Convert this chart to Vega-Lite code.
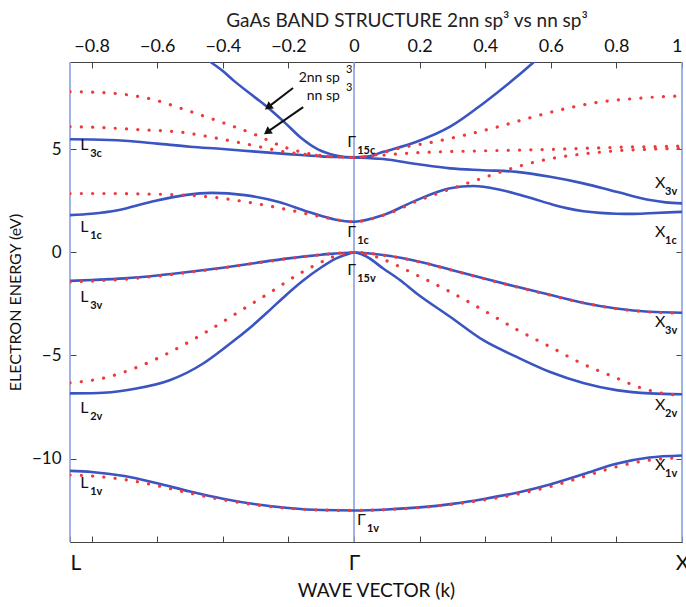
{
  "$schema": "https://vega.github.io/schema/vega-lite/v6.json",
  "autosize": "none",
  "width": 612,
  "height": 480,
  "padding": {"left": 70, "top": 62, "right": 4, "bottom": 65},
  "background": "white",
  "title": {"text": "GaAs BAND STRUCTURE 2nn sp³ vs nn sp³", "font": "Lato", "fontSize": 19, "fontWeight": "normal", "color": "#222", "dx": 31, "offset": 6},
  "config": {
    "view": {"stroke": null},
    "font": "Lato",
    "axis": {"grid": false, "domainColor": "#444", "tickColor": "#444", "tickSize": -6, "labelColor": "#111", "labelFont": "Lato", "labelFontSize": 17, "titleFont": "Lato", "titleFontSize": 16, "titleFontWeight": "normal", "titleColor": "#111"}
  },
  "datasets": {
    "points": [{"point": "L", "k": -0.866}, {"point": "Γ", "k": 0}, {"point": "X", "k": 1}],
    "bands": [
      {"model": "2nn", "band": "v1", "k": -0.866, "E": -10.6},
      {"model": "2nn", "band": "v1", "k": -0.8, "E": -10.65},
      {"model": "2nn", "band": "v1", "k": -0.7, "E": -10.85},
      {"model": "2nn", "band": "v1", "k": -0.6, "E": -11.2},
      {"model": "2nn", "band": "v1", "k": -0.5, "E": -11.6},
      {"model": "2nn", "band": "v1", "k": -0.4, "E": -11.95},
      {"model": "2nn", "band": "v1", "k": -0.3, "E": -12.22},
      {"model": "2nn", "band": "v1", "k": -0.2, "E": -12.4},
      {"model": "2nn", "band": "v1", "k": -0.1, "E": -12.5},
      {"model": "2nn", "band": "v1", "k": 0, "E": -12.52},
      {"model": "2nn", "band": "v1", "k": 0.1, "E": -12.47},
      {"model": "2nn", "band": "v1", "k": 0.2, "E": -12.37},
      {"model": "2nn", "band": "v1", "k": 0.3, "E": -12.2},
      {"model": "2nn", "band": "v1", "k": 0.4, "E": -11.95},
      {"model": "2nn", "band": "v1", "k": 0.5, "E": -11.65},
      {"model": "2nn", "band": "v1", "k": 0.6, "E": -11.25},
      {"model": "2nn", "band": "v1", "k": 0.7, "E": -10.75},
      {"model": "2nn", "band": "v1", "k": 0.8, "E": -10.25},
      {"model": "2nn", "band": "v1", "k": 0.9, "E": -9.95},
      {"model": "2nn", "band": "v1", "k": 1, "E": -9.85},

      {"model": "2nn", "band": "v2", "k": -0.866, "E": -6.84},
      {"model": "2nn", "band": "v2", "k": -0.8, "E": -6.83},
      {"model": "2nn", "band": "v2", "k": -0.764, "E": -6.81},
      {"model": "2nn", "band": "v2", "k": -0.663, "E": -6.6},
      {"model": "2nn", "band": "v2", "k": -0.562, "E": -6.2},
      {"model": "2nn", "band": "v2", "k": -0.46, "E": -5.39},
      {"model": "2nn", "band": "v2", "k": -0.41, "E": -4.82},
      {"model": "2nn", "band": "v2", "k": -0.358, "E": -4.18},
      {"model": "2nn", "band": "v2", "k": -0.308, "E": -3.53},
      {"model": "2nn", "band": "v2", "k": -0.257, "E": -2.8},
      {"model": "2nn", "band": "v2", "k": -0.206, "E": -2.05},
      {"model": "2nn", "band": "v2", "k": -0.155, "E": -1.36},
      {"model": "2nn", "band": "v2", "k": -0.105, "E": -0.78},
      {"model": "2nn", "band": "v2", "k": -0.054, "E": -0.29},
      {"model": "2nn", "band": "v2", "k": -0.013, "E": -0.05},
      {"model": "2nn", "band": "v2", "k": 0, "E": 0},
      {"model": "2nn", "band": "v2", "k": 0.039, "E": -0.21},
      {"model": "2nn", "band": "v2", "k": 0.089, "E": -0.78},
      {"model": "2nn", "band": "v2", "k": 0.14, "E": -1.34},
      {"model": "2nn", "band": "v2", "k": 0.191, "E": -1.99},
      {"model": "2nn", "band": "v2", "k": 0.293, "E": -3.12},
      {"model": "2nn", "band": "v2", "k": 0.394, "E": -4.26},
      {"model": "2nn", "band": "v2", "k": 0.496, "E": -5.07},
      {"model": "2nn", "band": "v2", "k": 0.598, "E": -5.8},
      {"model": "2nn", "band": "v2", "k": 0.699, "E": -6.33},
      {"model": "2nn", "band": "v2", "k": 0.8, "E": -6.68},
      {"model": "2nn", "band": "v2", "k": 0.902, "E": -6.84},
      {"model": "2nn", "band": "v2", "k": 1, "E": -6.88},

      {"model": "2nn", "band": "v3", "k": -0.866, "E": -1.38},
      {"model": "2nn", "band": "v3", "k": -0.8, "E": -1.34},
      {"model": "2nn", "band": "v3", "k": -0.7, "E": -1.26},
      {"model": "2nn", "band": "v3", "k": -0.6, "E": -1.12},
      {"model": "2nn", "band": "v3", "k": -0.5, "E": -0.94},
      {"model": "2nn", "band": "v3", "k": -0.4, "E": -0.74},
      {"model": "2nn", "band": "v3", "k": -0.3, "E": -0.51},
      {"model": "2nn", "band": "v3", "k": -0.2, "E": -0.29},
      {"model": "2nn", "band": "v3", "k": -0.1, "E": -0.11},
      {"model": "2nn", "band": "v3", "k": 0, "E": 0},
      {"model": "2nn", "band": "v3", "k": 0.1, "E": -0.15},
      {"model": "2nn", "band": "v3", "k": 0.2, "E": -0.45},
      {"model": "2nn", "band": "v3", "k": 0.3, "E": -0.86},
      {"model": "2nn", "band": "v3", "k": 0.4, "E": -1.28},
      {"model": "2nn", "band": "v3", "k": 0.5, "E": -1.68},
      {"model": "2nn", "band": "v3", "k": 0.6, "E": -2.07},
      {"model": "2nn", "band": "v3", "k": 0.7, "E": -2.45},
      {"model": "2nn", "band": "v3", "k": 0.8, "E": -2.72},
      {"model": "2nn", "band": "v3", "k": 0.9, "E": -2.88},
      {"model": "2nn", "band": "v3", "k": 1, "E": -2.93},

      {"model": "2nn", "band": "c1", "k": -0.866, "E": 1.81},
      {"model": "2nn", "band": "c1", "k": -0.8, "E": 1.88},
      {"model": "2nn", "band": "c1", "k": -0.72, "E": 2.05},
      {"model": "2nn", "band": "c1", "k": -0.618, "E": 2.46},
      {"model": "2nn", "band": "c1", "k": -0.516, "E": 2.78},
      {"model": "2nn", "band": "c1", "k": -0.435, "E": 2.89},
      {"model": "2nn", "band": "c1", "k": -0.333, "E": 2.78},
      {"model": "2nn", "band": "c1", "k": -0.232, "E": 2.46},
      {"model": "2nn", "band": "c1", "k": -0.13, "E": 1.92},
      {"model": "2nn", "band": "c1", "k": -0.059, "E": 1.6},
      {"model": "2nn", "band": "c1", "k": 0, "E": 1.49},
      {"model": "2nn", "band": "c1", "k": 0.089, "E": 1.81},
      {"model": "2nn", "band": "c1", "k": 0.191, "E": 2.54},
      {"model": "2nn", "band": "c1", "k": 0.293, "E": 3.11},
      {"model": "2nn", "band": "c1", "k": 0.364, "E": 3.22},
      {"model": "2nn", "band": "c1", "k": 0.445, "E": 3.04},
      {"model": "2nn", "band": "c1", "k": 0.547, "E": 2.6},
      {"model": "2nn", "band": "c1", "k": 0.6, "E": 2.35},
      {"model": "2nn", "band": "c1", "k": 0.648, "E": 2.15},
      {"model": "2nn", "band": "c1", "k": 0.7, "E": 2.0},
      {"model": "2nn", "band": "c1", "k": 0.75, "E": 1.92},
      {"model": "2nn", "band": "c1", "k": 0.8, "E": 1.88},
      {"model": "2nn", "band": "c1", "k": 0.852, "E": 1.87},
      {"model": "2nn", "band": "c1", "k": 0.9, "E": 1.9},
      {"model": "2nn", "band": "c1", "k": 1, "E": 1.97},

      {"model": "2nn", "band": "c2", "k": -0.866, "E": 5.49},
      {"model": "2nn", "band": "c2", "k": -0.8, "E": 5.48},
      {"model": "2nn", "band": "c2", "k": -0.7, "E": 5.42},
      {"model": "2nn", "band": "c2", "k": -0.6, "E": 5.28},
      {"model": "2nn", "band": "c2", "k": -0.5, "E": 5.13},
      {"model": "2nn", "band": "c2", "k": -0.4, "E": 5.02},
      {"model": "2nn", "band": "c2", "k": -0.3, "E": 4.89},
      {"model": "2nn", "band": "c2", "k": -0.2, "E": 4.77},
      {"model": "2nn", "band": "c2", "k": -0.1, "E": 4.66},
      {"model": "2nn", "band": "c2", "k": 0, "E": 4.61},
      {"model": "2nn", "band": "c2", "k": 0.089, "E": 4.53},
      {"model": "2nn", "band": "c2", "k": 0.191, "E": 4.29},
      {"model": "2nn", "band": "c2", "k": 0.293, "E": 4.08},
      {"model": "2nn", "band": "c2", "k": 0.394, "E": 3.99},
      {"model": "2nn", "band": "c2", "k": 0.496, "E": 3.91},
      {"model": "2nn", "band": "c2", "k": 0.598, "E": 3.67},
      {"model": "2nn", "band": "c2", "k": 0.699, "E": 3.35},
      {"model": "2nn", "band": "c2", "k": 0.8, "E": 2.94},
      {"model": "2nn", "band": "c2", "k": 0.902, "E": 2.54},
      {"model": "2nn", "band": "c2", "k": 0.95, "E": 2.43},
      {"model": "2nn", "band": "c2", "k": 1, "E": 2.38},

      {"model": "2nn", "band": "c3", "k": -0.47, "E": 9.65},
      {"model": "2nn", "band": "c3", "k": -0.445, "E": 9.33},
      {"model": "2nn", "band": "c3", "k": -0.4, "E": 8.8},
      {"model": "2nn", "band": "c3", "k": -0.364, "E": 8.3},
      {"model": "2nn", "band": "c3", "k": -0.3, "E": 7.5},
      {"model": "2nn", "band": "c3", "k": -0.262, "E": 7.02},
      {"model": "2nn", "band": "c3", "k": -0.211, "E": 6.3},
      {"model": "2nn", "band": "c3", "k": -0.161, "E": 5.55},
      {"model": "2nn", "band": "c3", "k": -0.11, "E": 5.0},
      {"model": "2nn", "band": "c3", "k": -0.059, "E": 4.72},
      {"model": "2nn", "band": "c3", "k": 0, "E": 4.61},
      {"model": "2nn", "band": "c3", "k": 0.04, "E": 4.65},
      {"model": "2nn", "band": "c3", "k": 0.089, "E": 4.88},
      {"model": "2nn", "band": "c3", "k": 0.191, "E": 5.37},
      {"model": "2nn", "band": "c3", "k": 0.293, "E": 6.1},
      {"model": "2nn", "band": "c3", "k": 0.394, "E": 7.23},
      {"model": "2nn", "band": "c3", "k": 0.496, "E": 8.52},
      {"model": "2nn", "band": "c3", "k": 0.56, "E": 9.4},

      {"model": "nn", "band": "v1", "k": -0.866, "E": -10.8},
      {"model": "nn", "band": "v1", "k": -0.8, "E": -10.85},
      {"model": "nn", "band": "v1", "k": -0.7, "E": -11.02},
      {"model": "nn", "band": "v1", "k": -0.6, "E": -11.32},
      {"model": "nn", "band": "v1", "k": -0.5, "E": -11.68},
      {"model": "nn", "band": "v1", "k": -0.4, "E": -12.0},
      {"model": "nn", "band": "v1", "k": -0.3, "E": -12.25},
      {"model": "nn", "band": "v1", "k": -0.2, "E": -12.42},
      {"model": "nn", "band": "v1", "k": -0.1, "E": -12.5},
      {"model": "nn", "band": "v1", "k": 0, "E": -12.52},
      {"model": "nn", "band": "v1", "k": 0.1, "E": -12.48},
      {"model": "nn", "band": "v1", "k": 0.2, "E": -12.38},
      {"model": "nn", "band": "v1", "k": 0.3, "E": -12.22},
      {"model": "nn", "band": "v1", "k": 0.4, "E": -12.0},
      {"model": "nn", "band": "v1", "k": 0.5, "E": -11.72},
      {"model": "nn", "band": "v1", "k": 0.6, "E": -11.35},
      {"model": "nn", "band": "v1", "k": 0.7, "E": -10.88},
      {"model": "nn", "band": "v1", "k": 0.8, "E": -10.4},
      {"model": "nn", "band": "v1", "k": 0.9, "E": -10.08},
      {"model": "nn", "band": "v1", "k": 1, "E": -9.95},

      {"model": "nn", "band": "v2", "k": -0.866, "E": -6.33},
      {"model": "nn", "band": "v2", "k": -0.762, "E": -6.09},
      {"model": "nn", "band": "v2", "k": -0.658, "E": -5.55},
      {"model": "nn", "band": "v2", "k": -0.555, "E": -4.79},
      {"model": "nn", "band": "v2", "k": -0.45, "E": -3.85},
      {"model": "nn", "band": "v2", "k": -0.346, "E": -2.83},
      {"model": "nn", "band": "v2", "k": -0.242, "E": -1.8},
      {"model": "nn", "band": "v2", "k": -0.171, "E": -1.07},
      {"model": "nn", "band": "v2", "k": -0.138, "E": -0.78},
      {"model": "nn", "band": "v2", "k": -0.104, "E": -0.5},
      {"model": "nn", "band": "v2", "k": -0.069, "E": -0.24},
      {"model": "nn", "band": "v2", "k": -0.034, "E": -0.08},
      {"model": "nn", "band": "v2", "k": 0, "E": 0},
      {"model": "nn", "band": "v2", "k": 0.04, "E": -0.08},
      {"model": "nn", "band": "v2", "k": 0.089, "E": -0.34},
      {"model": "nn", "band": "v2", "k": 0.191, "E": -1.1},
      {"model": "nn", "band": "v2", "k": 0.293, "E": -1.91},
      {"model": "nn", "band": "v2", "k": 0.394, "E": -2.8},
      {"model": "nn", "band": "v2", "k": 0.496, "E": -3.74},
      {"model": "nn", "band": "v2", "k": 0.598, "E": -4.58},
      {"model": "nn", "band": "v2", "k": 0.699, "E": -5.42},
      {"model": "nn", "band": "v2", "k": 0.8, "E": -6.09},
      {"model": "nn", "band": "v2", "k": 0.865, "E": -6.52},
      {"model": "nn", "band": "v2", "k": 0.933, "E": -6.81},
      {"model": "nn", "band": "v2", "k": 1, "E": -6.95},

      {"model": "nn", "band": "v3", "k": -0.866, "E": -1.43},
      {"model": "nn", "band": "v3", "k": -0.8, "E": -1.39},
      {"model": "nn", "band": "v3", "k": -0.7, "E": -1.3},
      {"model": "nn", "band": "v3", "k": -0.6, "E": -1.15},
      {"model": "nn", "band": "v3", "k": -0.5, "E": -0.96},
      {"model": "nn", "band": "v3", "k": -0.4, "E": -0.75},
      {"model": "nn", "band": "v3", "k": -0.3, "E": -0.52},
      {"model": "nn", "band": "v3", "k": -0.2, "E": -0.3},
      {"model": "nn", "band": "v3", "k": -0.1, "E": -0.11},
      {"model": "nn", "band": "v3", "k": 0, "E": 0},
      {"model": "nn", "band": "v3", "k": 0.1, "E": -0.16},
      {"model": "nn", "band": "v3", "k": 0.2, "E": -0.46},
      {"model": "nn", "band": "v3", "k": 0.3, "E": -0.87},
      {"model": "nn", "band": "v3", "k": 0.4, "E": -1.29},
      {"model": "nn", "band": "v3", "k": 0.5, "E": -1.69},
      {"model": "nn", "band": "v3", "k": 0.6, "E": -2.08},
      {"model": "nn", "band": "v3", "k": 0.7, "E": -2.45},
      {"model": "nn", "band": "v3", "k": 0.8, "E": -2.73},
      {"model": "nn", "band": "v3", "k": 0.9, "E": -2.89},
      {"model": "nn", "band": "v3", "k": 1, "E": -2.94},

      {"model": "nn", "band": "c1", "k": -0.866, "E": 2.86},
      {"model": "nn", "band": "c1", "k": -0.75, "E": 2.86},
      {"model": "nn", "band": "c1", "k": -0.65, "E": 2.84},
      {"model": "nn", "band": "c1", "k": -0.516, "E": 2.78},
      {"model": "nn", "band": "c1", "k": -0.414, "E": 2.65},
      {"model": "nn", "band": "c1", "k": -0.313, "E": 2.41},
      {"model": "nn", "band": "c1", "k": -0.207, "E": 2.09},
      {"model": "nn", "band": "c1", "k": -0.1, "E": 1.73},
      {"model": "nn", "band": "c1", "k": -0.03, "E": 1.53},
      {"model": "nn", "band": "c1", "k": 0, "E": 1.49},
      {"model": "nn", "band": "c1", "k": 0.1, "E": 1.86},
      {"model": "nn", "band": "c1", "k": 0.2, "E": 2.54},
      {"model": "nn", "band": "c1", "k": 0.3, "E": 3.11},
      {"model": "nn", "band": "c1", "k": 0.4, "E": 3.65},
      {"model": "nn", "band": "c1", "k": 0.5, "E": 4.17},
      {"model": "nn", "band": "c1", "k": 0.6, "E": 4.55},
      {"model": "nn", "band": "c1", "k": 0.7, "E": 4.78},
      {"model": "nn", "band": "c1", "k": 0.8, "E": 4.93},
      {"model": "nn", "band": "c1", "k": 0.9, "E": 5.01},
      {"model": "nn", "band": "c1", "k": 1, "E": 5.05},

      {"model": "nn", "band": "c2", "k": -0.866, "E": 6.1},
      {"model": "nn", "band": "c2", "k": -0.8, "E": 6.08},
      {"model": "nn", "band": "c2", "k": -0.67, "E": 5.97},
      {"model": "nn", "band": "c2", "k": -0.516, "E": 5.81},
      {"model": "nn", "band": "c2", "k": -0.414, "E": 5.53},
      {"model": "nn", "band": "c2", "k": -0.313, "E": 5.21},
      {"model": "nn", "band": "c2", "k": -0.211, "E": 4.88},
      {"model": "nn", "band": "c2", "k": -0.11, "E": 4.7},
      {"model": "nn", "band": "c2", "k": 0, "E": 4.61},
      {"model": "nn", "band": "c2", "k": 0.089, "E": 4.72},
      {"model": "nn", "band": "c2", "k": 0.191, "E": 4.84},
      {"model": "nn", "band": "c2", "k": 0.394, "E": 4.93},
      {"model": "nn", "band": "c2", "k": 0.598, "E": 5.0},
      {"model": "nn", "band": "c2", "k": 0.8, "E": 5.1},
      {"model": "nn", "band": "c2", "k": 1, "E": 5.16},

      {"model": "nn", "band": "c3", "k": -0.866, "E": 7.8},
      {"model": "nn", "band": "c3", "k": -0.8, "E": 7.78},
      {"model": "nn", "band": "c3", "k": -0.72, "E": 7.7},
      {"model": "nn", "band": "c3", "k": -0.615, "E": 7.43},
      {"model": "nn", "band": "c3", "k": -0.513, "E": 6.91},
      {"model": "nn", "band": "c3", "k": -0.408, "E": 6.34},
      {"model": "nn", "band": "c3", "k": -0.305, "E": 5.74},
      {"model": "nn", "band": "c3", "k": -0.211, "E": 5.1},
      {"model": "nn", "band": "c3", "k": -0.11, "E": 4.72},
      {"model": "nn", "band": "c3", "k": -0.05, "E": 4.63},
      {"model": "nn", "band": "c3", "k": 0, "E": 4.61},
      {"model": "nn", "band": "c3", "k": 0.05, "E": 4.68},
      {"model": "nn", "band": "c3", "k": 0.135, "E": 5.05},
      {"model": "nn", "band": "c3", "k": 0.238, "E": 5.35},
      {"model": "nn", "band": "c3", "k": 0.34, "E": 5.7},
      {"model": "nn", "band": "c3", "k": 0.44, "E": 6.1},
      {"model": "nn", "band": "c3", "k": 0.547, "E": 6.58},
      {"model": "nn", "band": "c3", "k": 0.648, "E": 6.99},
      {"model": "nn", "band": "c3", "k": 0.75, "E": 7.3},
      {"model": "nn", "band": "c3", "k": 0.852, "E": 7.46},
      {"model": "nn", "band": "c3", "k": 0.93, "E": 7.55},
      {"model": "nn", "band": "c3", "k": 1, "E": 7.59}
    ],
    "labels": [
      {"name": "Γ", "sub": "15c", "k": -0.021, "E": 5.11},
      {"name": "Γ", "sub": "1c", "k": -0.021, "E": 0.75},
      {"name": "Γ", "sub": "15v", "k": -0.021, "E": -1.11},
      {"name": "Γ", "sub": "1v", "k": 0.009, "E": -13.24},
      {"name": "L", "sub": "3c", "k": -0.835, "E": 4.95},
      {"name": "L", "sub": "1c", "k": -0.835, "E": 0.99},
      {"name": "L", "sub": "3v", "k": -0.835, "E": -2.41},
      {"name": "L", "sub": "2v", "k": -0.835, "E": -7.8},
      {"name": "L", "sub": "1v", "k": -0.835, "E": -11.45},
      {"name": "X", "sub": "3v", "k": 0.918, "E": 3.12},
      {"name": "X", "sub": "1c", "k": 0.918, "E": 0.75},
      {"name": "X", "sub": "3v", "k": 0.918, "E": -3.63},
      {"name": "X", "sub": "2v", "k": 0.918, "E": -7.66},
      {"name": "X", "sub": "1v", "k": 0.918, "E": -10.57}
    ],
    "notes": [
      {"text": "2nn sp", "sup": "3", "k": -0.043, "E": 8.27},
      {"text": "nn sp", "sup": "3", "k": -0.043, "E": 7.39}
    ],
    "arrows": [
      {"k": -0.186, "E": 7.98, "k2": -0.262, "E2": 7.05},
      {"k": -0.155, "E": 7.05, "k2": -0.265, "E2": 5.84}
    ]
  },
  "layer": [
    {
      "data": {"name": "points"},
      "mark": {"type": "rule", "color": "#8a9fe0", "strokeWidth": 1.6},
      "encoding": {
        "x": {"field": "k", "type": "quantitative", "scale": {"domain": [-0.866, 1], "nice": false, "zero": false}, "axis": null}
      }
    },
    {
      "data": {"name": "bands"},
      "transform": [{"filter": "datum.model == '2nn'"}],
      "mark": {"type": "line", "color": "#3a54c2", "strokeWidth": 2.6, "interpolate": "monotone", "clip": true},
      "encoding": {
        "x": {"field": "k", "type": "quantitative", "scale": {"domain": [-0.866, 1], "nice": false, "zero": false},
          "axis": {"orient": "top", "values": [-0.8, -0.6, -0.4, -0.2, 0, 0.2, 0.4, 0.6, 0.8, 1], "labelExpr": "datum.value == 0 ? '0' : datum.value == 1 ? '1' : format(datum.value, '.1f')", "labelFontSize": 18, "title": null, "labelPadding": 13}},
        "y": {"field": "E", "type": "quantitative", "scale": {"domain": [-14.05, 9.24], "nice": false, "zero": false},
          "axis": {"orient": "left", "values": [-10, -5, 0, 5], "format": "d", "domain": false, "title": "ELECTRON ENERGY (eV)", "labelPadding": 15, "titlePadding": 8}},
        "detail": {"field": "band"}
      }
    },
    {
      "data": {"name": "bands"},
      "transform": [{"filter": "datum.model == 'nn'"}],
      "mark": {"type": "line", "color": "#f03a3a", "strokeWidth": 3.2, "strokeCap": "round", "strokeDash": [0.1, 11.2], "interpolate": "monotone", "clip": true},
      "encoding": {
        "x": {"field": "k", "type": "quantitative", "scale": {"domain": [-0.866, 1], "nice": false, "zero": false},
          "axis": {"orient": "bottom", "values": [-0.866, -0.8, -0.6, -0.4, -0.2, 0, 0.2, 0.4, 0.6, 0.8, 1], "labelExpr": "datum.value < -0.85 ? 'L' : datum.value == 0 ? 'Γ' : datum.value == 1 ? 'X' : ''", "labelFontSize": 21, "labelAlign": {"condition": {"test": "datum.value < -0.85", "value": "left"}, "value": "center"}, "labelPadding": 16, "title": "WAVE VECTOR (k)", "titleFontSize": 19, "titlePadding": 8}},
        "y": {"field": "E", "type": "quantitative", "scale": {"domain": [-14.05, 9.24], "nice": false, "zero": false},
          "axis": {"orient": "right", "values": [-10, -5, 0, 5], "labels": false, "domain": false, "title": null}},
        "detail": {"field": "band"}
      }
    },
    {
      "data": {"name": "arrows"},
      "mark": {"type": "rule", "color": "#111", "strokeWidth": 2},
      "encoding": {
        "x": {"field": "k", "type": "quantitative", "scale": {"domain": [-0.866, 1], "nice": false, "zero": false}, "axis": null},
        "y": {"field": "E", "type": "quantitative", "scale": {"domain": [-14.05, 9.24], "nice": false, "zero": false}, "axis": null},
        "x2": {"field": "k2"},
        "y2": {"field": "E2"}
      }
    },
    {
      "data": {"name": "arrows"},
      "mark": {"type": "point", "shape": "triangle-up", "angle": 234, "filled": true, "color": "#111", "opacity": 1, "size": 80},
      "encoding": {
        "x": {"field": "k2", "type": "quantitative", "scale": {"domain": [-0.866, 1], "nice": false, "zero": false}, "axis": null},
        "y": {"field": "E2", "type": "quantitative", "scale": {"domain": [-14.05, 9.24], "nice": false, "zero": false}, "axis": null}
      }
    },
    {
      "data": {"name": "notes"},
      "mark": {"type": "text", "align": "right", "baseline": "alphabetic", "font": "Lato", "fontSize": 14, "color": "#111"},
      "encoding": {
        "x": {"field": "k", "type": "quantitative", "scale": {"domain": [-0.866, 1], "nice": false, "zero": false}, "axis": null},
        "y": {"field": "E", "type": "quantitative", "scale": {"domain": [-14.05, 9.24], "nice": false, "zero": false}, "axis": null},
        "text": {"field": "text"}
      }
    },
    {
      "data": {"name": "notes"},
      "mark": {"type": "text", "align": "left", "baseline": "alphabetic", "font": "Lato", "fontSize": 11, "color": "#111", "dx": 6, "dy": -9},
      "encoding": {
        "x": {"field": "k", "type": "quantitative", "scale": {"domain": [-0.866, 1], "nice": false, "zero": false}, "axis": null},
        "y": {"field": "E", "type": "quantitative", "scale": {"domain": [-14.05, 9.24], "nice": false, "zero": false}, "axis": null},
        "text": {"field": "sup"}
      }
    },
    {
      "data": {"name": "labels"},
      "mark": {"type": "text", "align": "left", "baseline": "alphabetic", "font": "Lato", "fontSize": 16, "color": "#111"},
      "encoding": {
        "x": {"field": "k", "type": "quantitative", "scale": {"domain": [-0.866, 1], "nice": false, "zero": false}, "axis": null},
        "y": {"field": "E", "type": "quantitative", "scale": {"domain": [-14.05, 9.24], "nice": false, "zero": false}, "axis": null},
        "text": {"field": "name"}
      }
    },
    {
      "data": {"name": "labels"},
      "mark": {"type": "text", "align": "left", "baseline": "alphabetic", "font": "Lato", "fontSize": 11, "fontWeight": "bold", "color": "#111", "dx": 10, "dy": 7},
      "encoding": {
        "x": {"field": "k", "type": "quantitative", "scale": {"domain": [-0.866, 1], "nice": false, "zero": false}, "axis": null},
        "y": {"field": "E", "type": "quantitative", "scale": {"domain": [-14.05, 9.24], "nice": false, "zero": false}, "axis": null},
        "text": {"field": "sub"}
      }
    }
  ]
}
